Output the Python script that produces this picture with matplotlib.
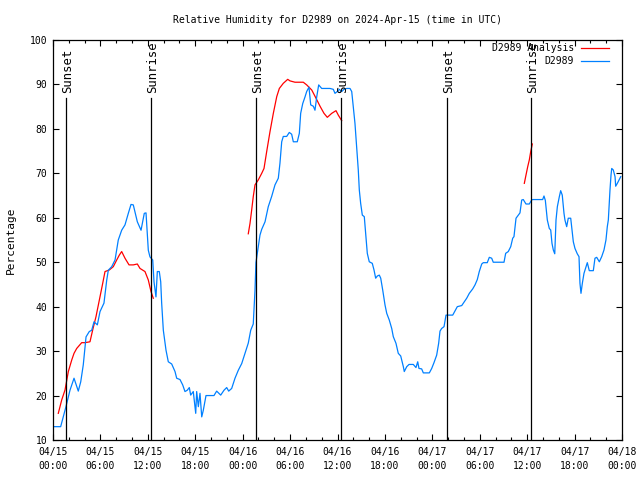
import numpy as np
import matplotlib
matplotlib.use("Agg")
import matplotlib.pyplot as plt
from matplotlib.ticker import MultipleLocator

# ---- data (hours since 2024-04-15 00:00 UTC) ----
obs_hours = [0.13, 0.97, 1.64, 2.15, 2.66, 3.20, 3.51, 3.83, 4.18, 4.59, 4.90, 5.19, 5.61, 5.95,
             6.45, 6.80, 7.00, 7.43, 7.85, 8.26, 8.69, 9.11, 9.53, 9.87, 10.16, 10.67, 11.14,
             11.55, 11.77, 12.06, 12.27, 12.62, 12.78, 13.03, 13.20, 13.45, 13.63, 13.75, 13.96,
             14.30, 14.59, 15.02, 15.44, 15.65, 16.07, 16.41, 16.70, 16.99, 17.25, 17.42, 17.75,
             18.06, 18.18, 18.39, 18.60, 18.82, 19.02, 19.36, 20.37, 20.71, 21.22, 21.64, 21.98,
             22.23, 22.61, 23.03, 23.45, 23.88, 24.29, 24.71, 25.02, 25.34, 25.56, 25.68, 25.97,
             26.19, 26.41, 26.83, 27.24, 27.67, 28.09, 28.51, 28.72, 28.94, 29.14, 29.57, 29.90,
             30.20, 30.41, 30.91, 31.17, 31.34, 31.60, 31.89, 32.10, 32.39, 32.61, 32.94, 33.15,
             33.37, 33.62, 34.00, 35.05, 35.47, 35.68, 35.97, 36.23, 36.53, 36.82, 37.16, 37.58,
             37.80, 38.00, 38.21, 38.42, 38.63, 38.76, 38.93, 39.14, 39.39, 39.60, 39.77, 40.02,
             40.40, 40.62, 40.83, 41.04, 41.29, 41.47, 41.72, 42.01, 42.23, 42.55, 42.86, 43.06,
             43.40, 43.69, 44.00, 44.33, 44.45, 44.76, 45.05, 45.59, 45.93, 46.15, 46.31, 46.65,
             46.86, 47.62, 47.92, 48.21, 48.55, 48.80, 48.97, 49.18, 49.48, 49.73, 50.58, 51.16,
             51.72, 52.01, 52.35, 52.68, 53.11, 53.40, 53.69, 53.94, 54.25, 54.45, 54.95, 55.21,
             55.51, 55.71, 57.07, 57.28, 57.61, 57.92, 58.17, 58.33, 58.59, 58.80, 59.09, 59.31,
             59.51, 59.85, 60.27, 60.57, 60.70, 61.96, 62.13, 62.30, 62.55, 62.80, 62.98, 63.14,
             63.31, 63.49, 63.65, 63.82, 64.07, 64.24, 64.44, 64.66, 64.78, 65.00, 65.20, 65.51,
             65.67, 65.84, 66.05, 66.34, 66.56, 66.68, 66.81, 66.98, 67.19, 67.44, 67.61, 67.86,
             68.37, 68.58, 68.80, 69.13, 69.43, 69.72, 69.97, 70.14, 70.27, 70.48, 70.61, 70.70,
             70.90, 71.12, 71.20, 71.41, 71.66, 71.84]
obs_values = [13, 13, 17.5, 21.2, 23.9, 21, 23.1, 26.9, 33.2, 34.4, 34.7, 36.6, 35.9, 38.9,
              40.8, 46, 48.2, 49, 50.5, 55, 57.2, 58.4, 61, 63, 62.9, 59.1, 57.2,
              61, 61.1, 52.7, 51.2, 50.5, 45.6, 42.2, 47.9, 47.9, 45.6, 40.8, 34.7,
              30.2, 27.6, 27.1, 25.4, 23.9, 23.6, 22.4, 20.9, 21.2, 21.8, 20.1, 20.9,
              16, 20.9, 17.5, 20.5, 15.2, 16.7, 20, 20, 21, 20.1, 21.2, 21.8,
              21, 21.6, 23.9, 25.7, 27.2, 29.5, 31.8, 34.7, 36.1, 43.7, 49.9, 53.5,
              56.1, 57.4, 59.1, 62.5, 64.8, 67.4, 68.9, 72.3, 77.1, 78.3, 78.3, 79.2,
              78.8, 77.1, 77.1, 79, 83.5, 85.7, 87.2, 88.4, 89.4, 85.4, 85.1, 84.2,
              87.2, 89.9, 89.1, 89.1, 88.9, 88, 88.4, 88.9, 88.4, 88.9, 89.1, 89.1,
              88.4, 85, 81.25, 76, 70.75, 66.25, 63.25, 60.6, 60.25, 55.75, 52, 50.1,
              49.75, 48.25, 46.4, 46.9, 47.1, 46.4, 43.75, 40.4, 38.5, 37, 35.1, 33.25,
              31.75, 29.5, 28.9, 26.5, 25.4, 26.5, 27, 27, 26.3, 27.6, 26.1, 26,
              25.1, 25.1, 26.1, 27.4, 29.1, 31.75, 34.5, 35.1, 35.5, 38.1, 38.1, 40,
              40.25, 41, 41.9, 43, 44, 44.9, 46.1, 47.9, 49.6, 49.9, 49.9, 51.1,
              50.9, 50, 50, 52, 52.4, 53.5, 55.4, 55.75, 59.9, 60.4, 61.1, 64,
              64.1, 63.1, 63.1, 64, 64.1, 64.1, 64.9, 63.9, 59.5, 57.6, 57.25, 54.25,
              52.75, 51.9, 59.5, 62.5, 64.75, 66.1, 65.1, 61, 59.5, 58, 59.9, 59.9,
              57.25, 54.6, 53.1, 51.9, 51.25, 45.25, 43, 45.25, 47.5, 48.9, 49.9, 48.1,
              48.1, 50.9, 51.1, 50.1, 51.25, 52.75, 55, 58, 59.5, 66.25, 69.6, 71.1,
              70.75, 69.25, 67.1, 67.75, 68.6, 69.25]

ana_hours = [0.67, 1.10, 1.52, 1.94, 2.37, 2.66, 3.00, 3.63, 4.05, 4.68, 5.02, 5.44, 5.95, 6.29,
             6.58, 7.12, 7.63, 8.06, 8.39, 8.69, 9.11, 9.62, 10.16, 10.67, 11.01, 11.64, 12.06,
             12.40, 12.69, np.nan,
             24.71, 24.93, 25.14, 25.34, 25.56, 25.97, 26.41, 26.70, 27.04, 27.46, 27.88, 28.31,
             28.64, 29.14, 29.70, 29.99, 30.62, 31.67, 32.10, 32.74, 33.28, 33.79, 34.29, 34.71,
             35.27, 35.81, 36.10, 36.53, np.nan,
             59.64, 59.85, 60.07, 60.27, 60.45, 60.65]
ana_values = [16, 19, 21.25, 25.4, 28, 29.5, 30.6, 31.9, 31.9, 32.1, 34.75, 37.75, 42.25, 45.25,
              47.9, 48.25, 49, 50.5, 51.6, 52.4, 50.9, 49.4, 49.4, 49.6, 48.6, 47.9, 46,
              43.4, 41.9, np.nan,
              56.4, 58.75, 61.75, 64.75, 67.4, 68.5, 70, 71.1, 74.9, 79.4, 83.5, 87.25,
              89.1, 90.25, 91.15, 90.8, 90.5, 90.5, 89.9, 88.75, 86.9, 85.1, 83.5, 82.6,
              83.5, 84.1, 83.1, 81.85, np.nan,
              67.75, 69.6, 71.5, 73, 74.9, 76.6]

sun_hours = [1.68, 12.45, 25.72, 36.48, 49.8, 60.45]
sun_labels = ["Sunset", "Sunrise", "Sunset", "Sunrise", "Sunset", "Sunrise"]

xtick_hours = [0, 6, 12, 18, 24, 30, 36, 42, 48, 54, 60, 66, 72]
xtick_labels = ["04/15\n00:00", "04/15\n06:00", "04/15\n12:00", "04/15\n18:00",
                "04/16\n00:00", "04/16\n06:00", "04/16\n12:00", "04/16\n18:00",
                "04/17\n00:00", "04/17\n06:00", "04/17\n12:00", "04/17\n18:00",
                "04/18\n00:00"]

title = "Relative Humidity for D2989 on 2024-Apr-15 (time in UTC)"

# ---- plot ----
plt.rcParams['font.family'] = ['DejaVu Sans Mono']
plt.rcParams['font.size'] = 7

fig = plt.figure(figsize=(6.4, 4.8), dpi=100)
ax = fig.add_axes([53/640, 40/480, 569/640, 400/480])

ax.plot(ana_hours, ana_values, color='#ff0000', lw=0.9, label='D2989 Analysis')
ax.plot(obs_hours, obs_values, color='#0080ff', lw=0.9, label='D2989')

for h, lab in zip(sun_hours, sun_labels):
    ax.plot([h, h], [0, 0.855], color='black', lw=0.9,
            transform=ax.get_xaxis_transform())
    ax.text(h + 0.2, 0.867, lab, rotation=90, ha='center', va='bottom',
            transform=ax.get_xaxis_transform(), fontsize=8.8)

ax.set_xlim(0, 72)
ax.set_ylim(10, 100)
ax.set_xticks(xtick_hours)
ax.set_xticklabels(xtick_labels, linespacing=1.45)
ax.xaxis.set_minor_locator(MultipleLocator(2))
ax.set_yticks(np.arange(10, 101, 10))
ax.tick_params(which='both', direction='in', top=True, right=True, labelsize=7,
               width=0.8, color='black')
ax.tick_params(which='major', length=4)
ax.tick_params(which='minor', length=2)
ax.tick_params(axis='x', pad=5)
ax.tick_params(axis='y', pad=4)
for s in ax.spines.values():
    s.set_linewidth(0.9)

ax.set_ylabel('Percentage', fontsize=8, labelpad=10)
ax.set_title(title, fontsize=7, pad=12)

leg = ax.legend(loc='upper right', frameon=False, markerfirst=False, fontsize=7,
                handlelength=2.9, handletextpad=0.7, borderaxespad=0, borderpad=0,
                labelspacing=0.3, bbox_to_anchor=(1 - 13/569, 1 - 3/400))
for t in leg.get_texts():
    t.set_ha('right')

fig.savefig('out.png', dpi=100)
